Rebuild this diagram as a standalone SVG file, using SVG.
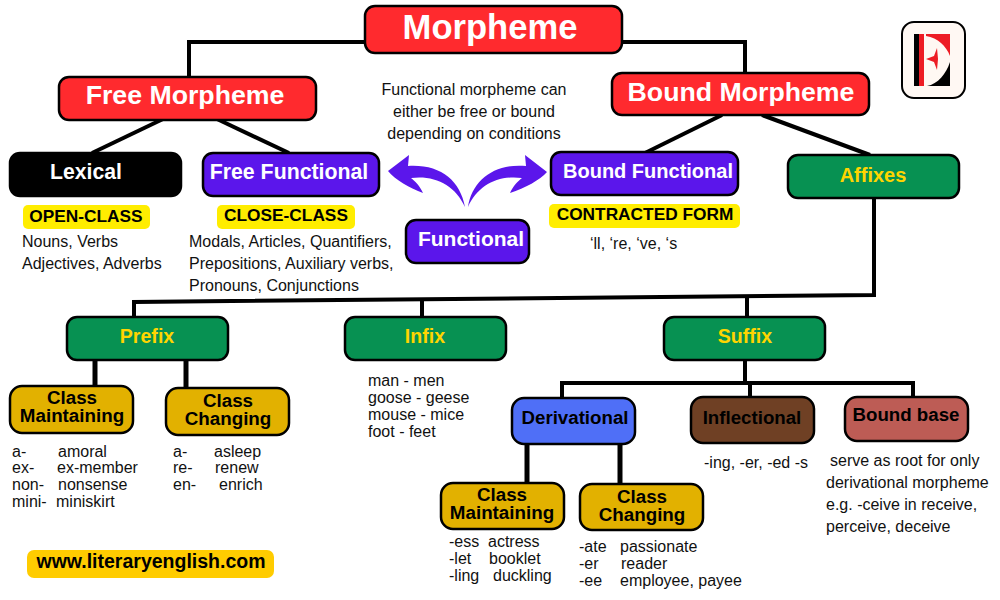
<svg xmlns="http://www.w3.org/2000/svg" width="1000" height="600" viewBox="0 0 1000 600">
<style>
text{font-family:"Liberation Sans",Arial,sans-serif}
.n{stroke:#000;stroke-width:2.5}
.red{fill:#ff2a2e}.blk{fill:#000}.pur{fill:#5b16eb}.grn{fill:#079152}.gold{fill:#e2b100}
.c{text-anchor:middle;font-weight:700}
.w{fill:#fff}.y{fill:#ffd500}.k{fill:#000}
.t{font-size:16px;fill:#111}
.tag{font-size:17.3px;font-weight:700;text-anchor:middle;fill:#000}
.l{fill:none;stroke:#000;stroke-width:4}
.l5{fill:none;stroke:#000;stroke-width:5}
</style>
<rect width="1000" height="600" fill="#fff"/>
<g id="connectors">
<path class="l" d="M365 42H189V77"/>
<path class="l" d="M622 42H745V73"/>
<path class="l" d="M163 119L92 153"/>
<path class="l" d="M217 119L289 153"/>
<path class="l" d="M722 115L645 153"/>
<path class="l" d="M762 115L870 155"/>
<path class="l" d="M874 198V295L134 302V318"/>
<path class="l" d="M422 300V318"/>
<path class="l" d="M747 297V318"/>
<path class="l5" d="M95 360V386"/>
<path class="l5" d="M186 360V388"/>
<path class="l" d="M745 360V382"/>
<path class="l" d="M562 398V383H913V398"/>
<path class="l" d="M750 383V397"/>
<path class="l5" d="M527 444V483"/>
<path class="l5" d="M620 444V485"/>
</g>
<g id="functional-arrows" fill="#5b16eb">
<path d="M465 207C460 180 440 164 408 166L409 155L388 171C395 180 410 188 423 193C420 186 415 181 411 178C435 175 455 185 465 207Z"/>
<path d="M468 207C472 180 495 163 526 166L525 155L547 172C540 180 525 188 510 193C513 186 518 181 522 178C498 175 478 185 468 207Z"/>
</g>
<g id="morpheme"><rect class="n red" x="365" y="6" width="257" height="47" rx="10"/><text class="c w" x="490" y="39" font-size="34.6">Morpheme</text></g>
<g id="free-morpheme"><rect class="n red" x="59" y="77" width="257" height="43" rx="10"/><text class="c w" x="185" y="104" font-size="26.7">Free Morpheme</text></g>
<g id="bound-morpheme"><rect class="n red" x="612" y="73" width="257" height="42" rx="10"/><text class="c w" x="741" y="101" font-size="26.7">Bound Morpheme</text></g>
<g id="note"><text class="t" text-anchor="middle" x="474" y="95">Functional morpheme can</text><text class="t" text-anchor="middle" x="474" y="117">either be free or bound</text><text class="t" text-anchor="middle" x="474" y="139">depending on conditions</text></g>
<g id="logo">
<rect x="902" y="22" width="63" height="76" rx="12" fill="#fff8f3" stroke="#000" stroke-width="2"/>
<rect x="914" y="34" width="5" height="52" fill="#000"/>
<rect x="919" y="34" width="5" height="52" fill="#ed1c24"/>
<path d="M926 34H950V56C946 46 938 38 926 36Z" fill="#ed1c24"/>
<path d="M950 62V86H927C938 84 946 74 950 62Z" fill="#000"/>
<path d="M926 59L934 56L937 48L938 59L937 70L934 62Z" fill="#ed1c24"/>
</g>
<g id="lexical"><rect class="n blk" x="10" y="153" width="171" height="43" rx="10"/><text class="c w" x="86" y="179" font-size="21.2">Lexical</text></g>
<g id="free-functional"><rect class="n pur" x="203" y="153" width="176" height="43" rx="10"/><text class="c w" x="289" y="179" font-size="21.3">Free Functional</text></g>
<g id="bound-functional"><rect class="n pur" x="551" y="152" width="187" height="43" rx="10"/><text class="c w" x="648" y="178" font-size="20">Bound Functional</text></g>
<g id="affixes"><rect class="n grn" x="788" y="155" width="171" height="43" rx="10"/><text class="c y" x="873" y="182" font-size="20">Affixes</text></g>
<g id="functional"><rect class="n pur" x="406" y="220" width="123" height="43" rx="10"/><text class="c w" x="471" y="246" font-size="21">Functional</text></g>
<g id="open-class"><rect x="23" y="205" width="127" height="24" rx="5" fill="#ffed00"/><text class="tag" x="86" y="222">OPEN-CLASS</text>
<text class="t" x="22" y="247">Nouns, Verbs</text><text class="t" x="22" y="269">Adjectives, Adverbs</text></g>
<g id="close-class"><rect x="217" y="205" width="138" height="24" rx="5" fill="#ffed00"/><text class="tag" x="286" y="221">CLOSE-CLASS</text>
<text class="t" x="189" y="247">Modals, Articles, Quantifiers,</text><text class="t" x="189" y="269">Prepositions, Auxiliary verbs,</text><text class="t" x="189" y="291">Pronouns, Conjunctions</text></g>
<g id="contracted-form"><rect x="549" y="204" width="191" height="24" rx="5" fill="#ffed00"/><text class="tag" x="645" y="220">CONTRACTED FORM</text>
<text class="t" x="590" y="249">‘ll, ‘re, ‘ve, ‘s</text></g>
<g id="prefix"><rect class="n grn" x="67" y="317" width="161" height="43" rx="10"/><text class="c y" x="147" y="343" font-size="19.6">Prefix</text></g>
<g id="infix"><rect class="n grn" x="345" y="317" width="161" height="43" rx="10"/><text class="c y" x="425" y="343" font-size="19.6">Infix</text></g>
<g id="suffix"><rect class="n grn" x="664" y="317" width="161" height="43" rx="10"/><text class="c y" x="745" y="343" font-size="19.6">Suffix</text></g>
<g id="infix-examples"><text class="t" x="368" y="386">man - men</text><text class="t" x="368" y="403">goose - geese</text><text class="t" x="368" y="420">mouse - mice</text><text class="t" x="368" y="437">foot - feet</text></g>
<g id="class-maintaining-prefix"><rect class="n gold" x="10" y="386" width="123" height="47" rx="12"/><text class="c k" font-size="18.8"><tspan x="72" y="404">Class</tspan><tspan x="72" y="422">Maintaining</tspan></text></g>
<g id="class-changing-prefix"><rect class="n gold" x="166" y="388" width="123" height="47" rx="12"/><text class="c k" font-size="18.8"><tspan x="228" y="407">Class</tspan><tspan x="228" y="425">Changing</tspan></text></g>
<g id="prefix-maintaining-examples">
<text class="t" x="12" y="457">a-</text><text class="t" x="58" y="457">amoral</text>
<text class="t" x="12" y="473">ex-</text><text class="t" x="57" y="473">ex-member</text>
<text class="t" x="12" y="490">non-</text><text class="t" x="58" y="490">nonsense</text>
<text class="t" x="12" y="507">mini-</text><text class="t" x="56" y="507">miniskirt</text></g>
<g id="prefix-changing-examples">
<text class="t" x="173" y="457">a-</text><text class="t" x="214" y="457">asleep</text>
<text class="t" x="173" y="473">re-</text><text class="t" x="215" y="473">renew</text>
<text class="t" x="173" y="490">en-</text><text class="t" x="219" y="490">enrich</text></g>
<g id="derivational"><rect class="n" fill="#4f6ff7" x="512" y="398" width="123" height="46" rx="12"/><text class="c k" x="575" y="424" font-size="18.7">Derivational</text></g>
<g id="inflectional"><rect class="n" fill="#6f4024" x="691" y="397" width="123" height="46" rx="12"/><text class="c k" x="752" y="424" font-size="18.7">Inflectional</text></g>
<g id="bound-base"><rect class="n" fill="#bd5c55" x="845" y="397" width="123" height="44" rx="12"/><text class="c k" x="906" y="421" font-size="18.7">Bound base</text></g>
<g id="inflectional-examples"><text class="t" x="704" y="468">-ing, -er, -ed -s</text></g>
<g id="bound-base-examples"><text class="t" x="830" y="466">serve as root for only</text><text class="t" x="826" y="488">derivational morpheme</text><text class="t" x="826" y="510">e.g. -ceive in receive,</text><text class="t" x="826" y="532">perceive, deceive</text></g>
<g id="class-maintaining-suffix"><rect class="n gold" x="441" y="483" width="123" height="46" rx="12"/><text class="c k" font-size="18.8"><tspan x="502" y="501">Class</tspan><tspan x="502" y="519">Maintaining</tspan></text></g>
<g id="class-changing-suffix"><rect class="n gold" x="580" y="484" width="123" height="46" rx="12"/><text class="c k" font-size="18.8"><tspan x="642" y="503">Class</tspan><tspan x="642" y="521">Changing</tspan></text></g>
<g id="suffix-maintaining-examples">
<text class="t" x="449" y="547">-ess</text><text class="t" x="488" y="547">actress</text>
<text class="t" x="449" y="564">-let</text><text class="t" x="489" y="564">booklet</text>
<text class="t" x="449" y="581">-ling</text><text class="t" x="493" y="581">duckling</text></g>
<g id="suffix-changing-examples">
<text class="t" x="579" y="552">-ate</text><text class="t" x="620" y="552">passionate</text>
<text class="t" x="579" y="569">-er</text><text class="t" x="621" y="569">reader</text>
<text class="t" x="579" y="586">-ee</text><text class="t" x="620" y="586">employee, payee</text></g>
<g id="website"><rect x="27" y="550" width="247" height="28" rx="7" fill="#ffcc00"/><text x="151" y="568" text-anchor="middle" font-size="19.5" font-weight="700" fill="#000">www.literaryenglish.com</text></g>
</svg>
